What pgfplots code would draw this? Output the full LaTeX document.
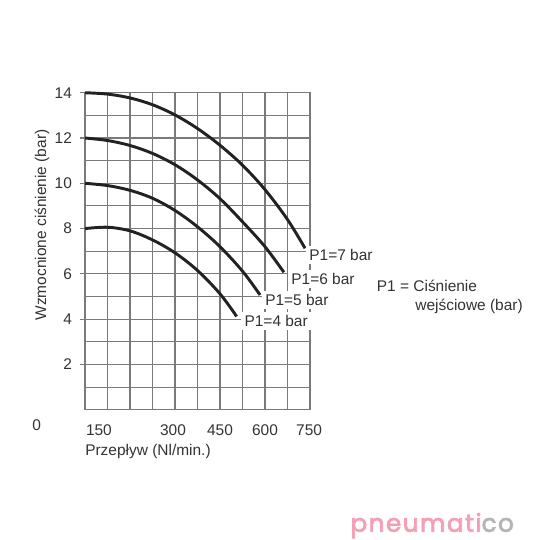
\documentclass[border=0pt]{standalone}
\usepackage{fontspec}
\setmainfont{Liberation Sans}
\newfontfamily\logofont[LetterSpace=6, FakeBold=3]{Poppins}
\usepackage{pgfplots}
\pgfplotsset{compat=1.18}
\definecolor{txt}{HTML}{333333}
\definecolor{gridc}{HTML}{7A7A7A}
\definecolor{curvec}{HTML}{222222}
\definecolor{logopink}{HTML}{F4A0B4}
\definecolor{logogray}{HTML}{B4B4B4}
\begin{document}
\fontsize{11.6}{13.9}\selectfont
\begin{tikzpicture}[font=\fontsize{11.6}{13.9}\selectfont]
\begin{axis}[
  at={(0,0)}, anchor=south west,
  scale only axis, width=168.75pt, height=237.75pt,
  xmin=0, xmax=10, ymin=0, ymax=14,
  xtick={0.62,3.91,6,8,9.96}, xticklabels={150,300,450,600,750},
  minor xtick={0,1,...,10},
  ytick={2,4,...,14},
  minor ytick={0,1,...,14},
  xminorgrids=true, yminorgrids=true,
  xmajorgrids=false, ymajorgrids=false,
  minor grid style={gridc, line width=0.8pt},
  axis line style={gridc, line width=0.8pt},
  tick style={gridc, line width=0.8pt},
  minor tick length=0pt,
  major tick length=3.75pt,
  xtick style={draw=none},
  tick align=outside,
  xtick pos=bottom, ytick pos=left,
  /pgf/number format/assume math mode=true,
  ticklabel style={text=txt},
  xticklabel style={anchor=base, yshift=-15.6pt},
  yticklabel style={xshift=-2pt},
  clip=false,
]
\addplot[curvec, line width=2.2pt, smooth, tension=0.55] coordinates {
 (0,14) (1,13.94) (2,13.77) (3,13.47) (4,13.02) (5,12.42) (6,11.68) (7,10.8) (8,9.72) (9,8.4) (9.78,7.13)};
\addplot[curvec, line width=2.2pt, smooth, tension=0.55] coordinates {
 (0,12) (1,11.89) (2,11.67) (3,11.32) (4,10.82) (5,10.15) (6,9.32) (7,8.3) (8,7.2) (8.84,6.07)};
\addplot[curvec, line width=2.2pt, smooth, tension=0.55] coordinates {
 (0,10) (1,9.9) (2,9.69) (3,9.34) (4,8.8) (5,8.08) (6,7.2) (7,6.12) (7.78,5.07)};
\addplot[curvec, line width=2.2pt, smooth, tension=0.55] coordinates {
 (0,8) (1,8.06) (2,7.9) (3,7.5) (4,6.93) (5,6.15) (6,5.12) (6.74,4.12)};

\node[anchor=base west, fill=white, inner sep=2.5pt, xshift=-2.5pt, text=txt] at (axis cs:9.96,6.57) {P1=7 bar};
\node[anchor=base west, fill=white, inner sep=2.5pt, xshift=-2.5pt, text=txt] at (axis cs:9.16,5.51) {P1=6 bar};
\node[anchor=base west, fill=white, inner sep=2.5pt, xshift=-2.5pt, text=txt] at (axis cs:8.0,4.59) {P1=5 bar};
\node[anchor=base west, fill=white, inner sep=2.5pt, xshift=-2.5pt, text=txt] at (axis cs:7.08,3.66) {P1=4 bar};

\node[anchor=base west, inner sep=0pt, text=txt] at (axis cs:12.96,5.24) {P1 = Ciśnienie};
\node[anchor=base west, inner sep=0pt, text=txt] at (axis cs:14.67,4.40) {wejściowe (bar)};

\node[rotate=90, text=txt] at (rel axis cs:-0.191,0.583) {Wzmocnione ciśnienie (bar)};
\node[anchor=base west, inner sep=0pt, yshift=-34pt, text=txt] at (rel axis cs:0,0) {Przepływ (Nl/min.)};
\node[anchor=base, inner sep=0pt, yshift=-15.6pt, text=txt] at (axis cs:-2.15,0) {0};
\end{axis}
\node[anchor=base west, inner sep=0pt] at (199pt,-91.5pt) {\fontsize{18.5}{20}\logofont\textcolor{logopink}{pneumati}\textcolor{logogray}{co}};
\pgfresetboundingbox
\path[use as bounding box] (-63.75pt,-97.7pt) rectangle (341.25pt,307.3pt);
\end{tikzpicture}
\end{document}
